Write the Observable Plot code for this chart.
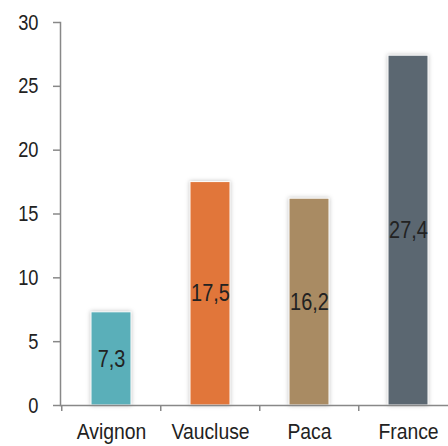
<!DOCTYPE html>
<html>
<head>
<meta charset="utf-8">
<script src="https://cdn.jsdelivr.net/npm/d3@7"></script>
<script src="https://cdn.jsdelivr.net/npm/@observablehq/plot@0.6"></script>
<style>
  html, body { margin: 0; padding: 0; background: #fff; overflow: hidden; }
  svg { overflow: visible; }
  g[aria-label="bar"] rect { filter: drop-shadow(0px 0px 2px rgba(0,0,0,0.25)); }
</style>
</head>
<body>
<div id="chart"></div>
<script>
const categories = ["Avignon", "Vaucluse", "Paca", "France"];
const values = [7.3, 17.5, 16.2, 27.4];
const colors = ["#5aafb9", "#e1763a", "#a98b63", "#5b6771"];
const yTicks = [0, 5, 10, 15, 20, 25, 30];

const data = categories.map((c, i) => ({category: c, value: values[i], color: colors[i]}));
const fmt = v => v.toFixed(1).replace(".", ",");
const FONT = "'Liberation Sans', Arial, sans-serif";

const chart = Plot.plot({
  width: 448,
  height: 446,
  marginLeft: 60,
  marginRight: -10,
  marginTop: 22,
  marginBottom: 41,
  style: {fontSize: "22px", fontFamily: FONT, color: "#222", background: "#fff"},
  x: {domain: categories, paddingInner: 0.6, paddingOuter: 0.3, align: 0.5},
  y: {domain: [0, 30]},
  marks: [
    Plot.barY(data, {x: "category", y: "value", fill: "color", stroke: "white", strokeWidth: 1}),
    Plot.text(data, {x: "category", y: d => d.value / 2, text: d => fmt(d.value), fill: "#222", fontSize: 24}),
    Plot.ruleY([0], {stroke: "#888", strokeWidth: 1.5}),
    Plot.frame({anchor: "left", stroke: "#888", strokeWidth: 1.5}),
    Plot.axisY({ticks: yTicks, tickSize: 7, tickPadding: 15, label: null, stroke: "#888", strokeOpacity: 1, strokeWidth: 1.5, fill: "#222", fontSize: 22}),
    Plot.axisX({tickSize: 6, tickFormat: () => "", dx: -49.75, label: null, stroke: "#888", strokeOpacity: 1, strokeWidth: 1.5}),
    Plot.axisX({tickSize: 0, tickPadding: 18, label: null, fill: "#222", fontSize: 22})
  ]
});

// Condense the text horizontally (narrow typeface look), keeping anchors in place
chart.querySelectorAll("text").forEach(t => {
  const group = t.parentNode.getAttribute("aria-label") || "";
  const s = group === "x-axis tick label" ? 0.88 : 0.83;
  const tr = t.getAttribute("transform") || "";
  const x = t.getAttribute("x");
  if (x !== null && !isNaN(+x)) t.setAttribute("x", +x / s);
  t.setAttribute("transform", `${tr} scale(${s},1)`);
});
document.getElementById("chart").appendChild(chart);
</script>
</body>
</html>
